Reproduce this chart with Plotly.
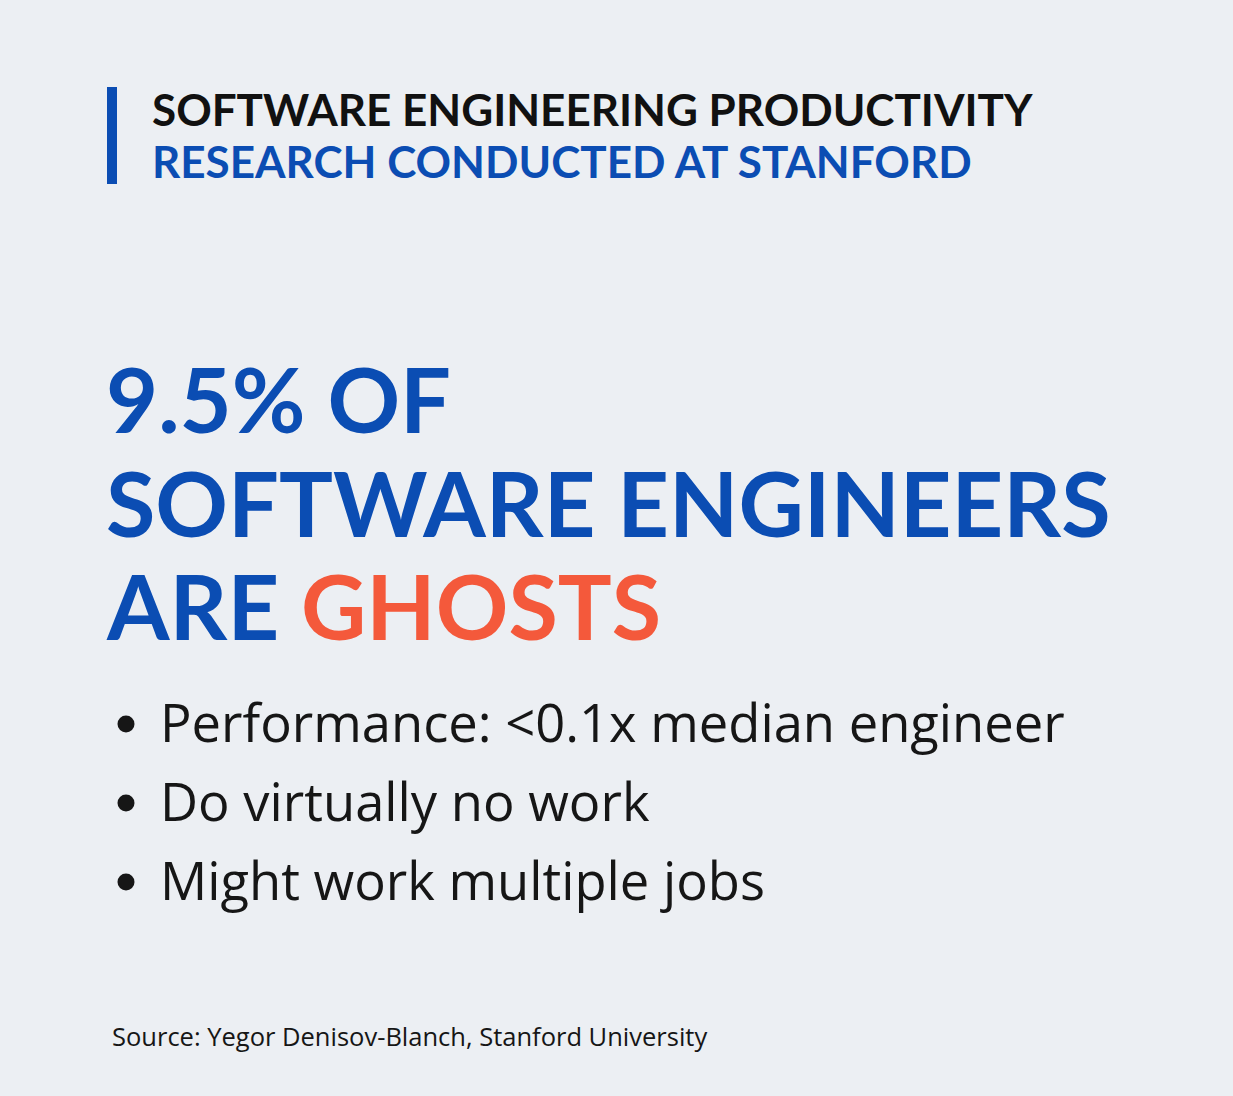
import plotly.graph_objects as go

W, H = 1233, 1096
BG = "#eceff3"
BLUE = "#0b4db3"
ORANGE = "#f4593b"
DARK = "#161616"

header_lines = ["SOFTWARE ENGINEERING PRODUCTIVITY", "RESEARCH CONDUCTED AT STANFORD"]
header_colors = ["#111111", BLUE]
headline_lines = ["9.5% OF", "SOFTWARE ENGINEERS", "ARE <span style='color:%s'>GHOSTS</span>" % ORANGE]
bullets = ["Performance: <0.1x median engineer", "Do virtually no work", "Might work multiple jobs"]
source = "Source: Yegor Denisov-Blanch, Stanford University"

BODY_FONT = "Open Sans"

fig = go.Figure()
fig.add_trace(go.Scatter(x=[0], y=[0], mode="markers", marker=dict(opacity=0), hoverinfo="skip", showlegend=False))

ann = []
shapes = [dict(type="rect", x0=107, x1=117, y0=87, y1=184, fillcolor=BLUE, line=dict(width=0), layer="above")]

header_y = [109, 161]
for t, c, y in zip(header_lines, header_colors, header_y):
    ann.append(dict(x=150, y=y, text="<b>%s</b>" % t, font=dict(family="Lato", size=44, color=c),
                    xanchor="left", yanchor="middle", showarrow=False))
head_y = [398, 502, 605]
for t, y in zip(headline_lines, head_y):
    ann.append(dict(x=104, y=y, text="<b>%s</b>" % t, font=dict(family="Lato", size=90, color=BLUE),
                    xanchor="left", yanchor="middle", showarrow=False))
bul_y = [721, 800, 879]
R = 8.5
for t, y in zip(bullets, bul_y):
    cy = y + 3
    shapes.append(dict(type="circle", x0=126 - R, x1=126 + R, y0=cy - R, y1=cy + R,
                       fillcolor=DARK, line=dict(width=0), layer="above"))
    ann.append(dict(x=158, y=y, text=t.replace("<", "&lt;"), font=dict(family=BODY_FONT, size=52.5, color=DARK),
                    xanchor="left", yanchor="middle", showarrow=False))
ann.append(dict(x=110, y=1036, text=source, font=dict(family=BODY_FONT, size=25.5, color=DARK),
                xanchor="left", yanchor="middle", showarrow=False))

fig.update_layout(
    width=W, height=H, margin=dict(l=0, r=0, t=0, b=0),
    paper_bgcolor=BG, plot_bgcolor=BG,
    xaxis=dict(range=[0, W], visible=False, fixedrange=True),
    yaxis=dict(range=[H, 0], visible=False, fixedrange=True),
    annotations=ann,
    shapes=shapes,
    showlegend=False,
)
fig.write_html("out.html", config={"displayModeBar": False},
               post_script="document.body.style.margin='0';document.body.style.background='%s';" % BG)
